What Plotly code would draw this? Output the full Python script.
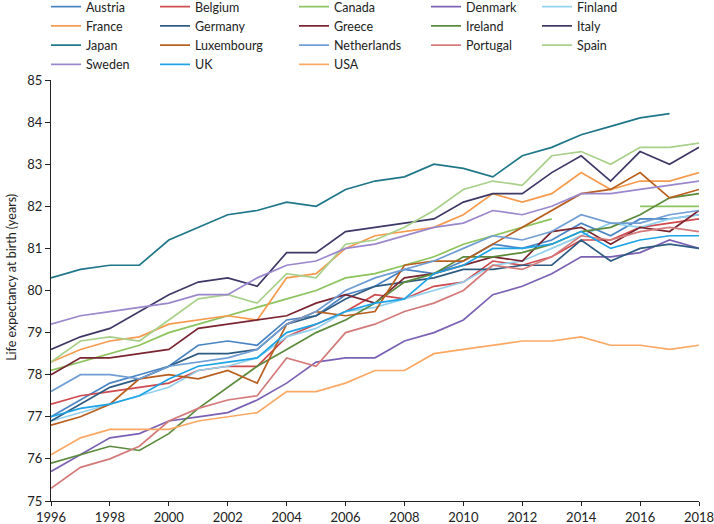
import plotly.graph_objects as go

years = list(range(1996, 2019))

austria = [77.0, 77.4, 77.8, 78.0, 78.2, 78.7, 78.8, 78.7, 79.3, 79.4, 79.9, 80.1, 80.5, 80.4, 80.7, 81.1, 81.0, 81.2, 81.6, 81.3, 81.7, 81.7, 81.8]
belgium = [77.3, 77.5, 77.6, 77.7, 77.8, 78.1, 78.2, 78.2, 78.9, 79.2, 79.5, 79.9, 79.8, 80.1, 80.2, 80.7, 80.6, 80.8, 81.2, 81.2, 81.5, 81.6, 81.7]
canada = [78.1, 78.3, 78.5, 78.7, 79.0, 79.2, 79.4, 79.6, 79.8, 80.0, 80.3, 80.4, 80.6, 80.8, 81.1, 81.3, 81.5, 81.7, None, None, 82.0, 82.0, 82.0]
denmark = [75.7, 76.1, 76.5, 76.6, 76.9, 77.0, 77.1, 77.4, 77.8, 78.3, 78.4, 78.4, 78.8, 79.0, 79.3, 79.9, 80.1, 80.4, 80.8, 80.8, 80.9, 81.2, 81.0]
finland = [76.9, 77.1, 77.3, 77.5, 77.7, 78.1, 78.2, 78.4, 78.9, 79.1, 79.5, 79.6, 79.8, 80.0, 80.2, 80.6, 80.7, 81.0, 81.3, 81.6, 81.5, 81.7, 81.8]
france = [78.3, 78.6, 78.8, 78.9, 79.2, 79.3, 79.4, 79.3, 80.3, 80.4, 81.0, 81.3, 81.4, 81.5, 81.8, 82.3, 82.1, 82.3, 82.8, 82.4, 82.6, 82.6, 82.8]
germany = [76.9, 77.3, 77.7, 77.9, 78.2, 78.5, 78.5, 78.6, 79.2, 79.4, 79.8, 80.1, 80.2, 80.3, 80.5, 80.5, 80.6, 80.6, 81.2, 80.7, 81.0, 81.1, 81.0]
greece = [78.0, 78.4, 78.4, 78.5, 78.6, 79.1, 79.2, 79.3, 79.4, 79.7, 79.9, 79.7, 80.3, 80.4, 80.6, 80.8, 80.7, 81.4, 81.5, 81.1, 81.5, 81.4, 81.9]
ireland = [75.9, 76.1, 76.3, 76.2, 76.6, 77.2, 77.7, 78.2, 78.6, 79.0, 79.3, 79.7, 80.2, 80.4, 80.8, 80.8, 80.9, 81.1, 81.4, 81.5, 81.8, 82.2, 82.3]
italy = [78.6, 78.9, 79.1, 79.5, 79.9, 80.2, 80.3, 80.1, 80.9, 80.9, 81.4, 81.5, 81.6, 81.7, 82.1, 82.3, 82.3, 82.8, 83.2, 82.6, 83.3, 83.0, 83.4]
japan = [80.3, 80.5, 80.6, 80.6, 81.2, 81.5, 81.8, 81.9, 82.1, 82.0, 82.4, 82.6, 82.7, 83.0, 82.9, 82.7, 83.2, 83.4, 83.7, 83.9, 84.1, 84.2, None]
luxembourg = [76.8, 77.0, 77.3, 77.9, 78.0, 77.9, 78.1, 77.8, 79.2, 79.5, 79.4, 79.5, 80.6, 80.7, 80.7, 81.1, 81.5, 81.9, 82.3, 82.4, 82.8, 82.2, 82.4]
netherlands = [77.6, 78.0, 78.0, 77.9, 78.2, 78.3, 78.4, 78.6, 79.2, 79.5, 80.0, 80.3, 80.5, 80.7, 81.0, 81.3, 81.2, 81.4, 81.8, 81.6, 81.6, 81.8, 81.9]
portugal = [75.3, 75.8, 76.0, 76.3, 76.9, 77.2, 77.4, 77.5, 78.4, 78.2, 79.0, 79.2, 79.5, 79.7, 80.0, 80.6, 80.5, 80.8, 81.3, 81.2, 81.4, 81.5, 81.4]
spain = [78.3, 78.8, 78.9, 78.8, 79.3, 79.8, 79.9, 79.7, 80.4, 80.3, 81.1, 81.2, 81.5, 81.9, 82.4, 82.6, 82.5, 83.2, 83.3, 83.0, 83.4, 83.4, 83.5]
sweden = [79.2, 79.4, 79.5, 79.6, 79.7, 79.9, 79.9, 80.3, 80.6, 80.7, 81.0, 81.1, 81.3, 81.5, 81.6, 81.9, 81.8, 82.0, 82.3, 82.3, 82.4, 82.5, 82.6]
uk = [77.0, 77.2, 77.3, 77.5, 77.9, 78.2, 78.3, 78.4, 79.0, 79.2, 79.5, 79.7, 79.8, 80.4, 80.6, 81.0, 81.0, 81.1, 81.4, 81.0, 81.2, 81.3, 81.3]
usa = [76.1, 76.5, 76.7, 76.7, 76.7, 76.9, 77.0, 77.1, 77.6, 77.6, 77.8, 78.1, 78.1, 78.5, 78.6, 78.7, 78.8, 78.8, 78.9, 78.7, 78.7, 78.6, 78.7]

x_ticks = [1996, 1998, 2000, 2002, 2004, 2006, 2008, 2010, 2012, 2014, 2016, 2018]
y_ticks = [75, 76, 77, 78, 79, 80, 81, 82, 83, 84, 85]
y_title = "Life expectancy at birth (years)"

series = [
    ("Austria", austria, "#4a84c4", "legend"),
    ("Belgium", belgium, "#cf4a4e", "legend2"),
    ("Canada", canada, "#8cc35c", "legend3"),
    ("Denmark", denmark, "#7a61b3", "legend4"),
    ("Finland", finland, "#92d0ee", "legend5"),
    ("France", france, "#f69a4e", "legend"),
    ("Germany", germany, "#2e5b82", "legend2"),
    ("Greece", greece, "#7a2530", "legend3"),
    ("Ireland", ireland, "#5b8a3c", "legend4"),
    ("Italy", italy, "#3d3866", "legend5"),
    ("Japan", japan, "#1f7688", "legend"),
    ("Luxembourg", luxembourg, "#b85f20", "legend2"),
    ("Netherlands", netherlands, "#6f9dd4", "legend3"),
    ("Portugal", portugal, "#d47a7a", "legend4"),
    ("Spain", spain, "#a8d08a", "legend5"),
    ("Sweden", sweden, "#9b87cc", "legend"),
    ("UK", uk, "#1da4e6", "legend2"),
    ("USA", usa, "#fba864", "legend3"),
]

fig = go.Figure()
for name, vals, color, lg in series:
    fig.add_trace(go.Scatter(
        x=years, y=vals, name=name, mode="lines",
        line=dict(color=color, width=1.7),
        connectgaps=False, legend=lg,
    ))

font_family = "Lato, 'Open Sans', sans-serif"
plot_l, plot_t, plot_w, plot_h = 51, 80, 648, 421
legend_common = dict(
    orientation="v", yanchor="top", y=1 + 88 / plot_h, xanchor="left",
    bgcolor="rgba(0,0,0,0)", borderwidth=0,
    font=dict(family=font_family, size=12.5, color="#222"),
    itemwidth=30, tracegroupgap=0,
)
col_px = [46, 155, 294, 426, 537]
legend_names = ["legend", "legend2", "legend3", "legend4", "legend5"]
layout_legends = {}
for nm, px in zip(legend_names, col_px):
    d = dict(legend_common)
    d["x"] = (px - plot_l) / plot_w
    layout_legends[nm] = d

fig.update_layout(
    width=714, height=524,
    margin=dict(l=51, r=15, t=80, b=23, pad=0, autoexpand=False),
    paper_bgcolor="white", plot_bgcolor="white",
    font=dict(family=font_family, size=13, color="#222"),
    showlegend=True,
    xaxis=dict(
        range=[1996, 2018], tickvals=x_ticks, ticks="outside", ticklen=4,
        tickcolor="#222", showline=True, linecolor="#222", linewidth=1.3,
        showgrid=False, zeroline=False, tickfont=dict(size=13),
        ticklabeloverflow="allow",
    ),
    yaxis=dict(
        range=[75, 85], tickvals=y_ticks, ticks="outside", ticklen=5,
        tickcolor="#222", showline=True, linecolor="#222", linewidth=1.3,
        showgrid=False, zeroline=False, tickfont=dict(size=13),
    ),
    annotations=[dict(
        text=y_title, textangle=-90, xref="paper", yref="paper",
        x=(12 - plot_l) / plot_w, y=0.53, xanchor="center", yanchor="middle",
        showarrow=False, font=dict(family=font_family, size=12.5, color="#222"),
    )],
    **layout_legends,
)

fig.write_html(
    "out.html",
    config={"displayModeBar": False},
    post_script="document.body.style.margin='0';document.body.style.overflow='hidden';",
)
